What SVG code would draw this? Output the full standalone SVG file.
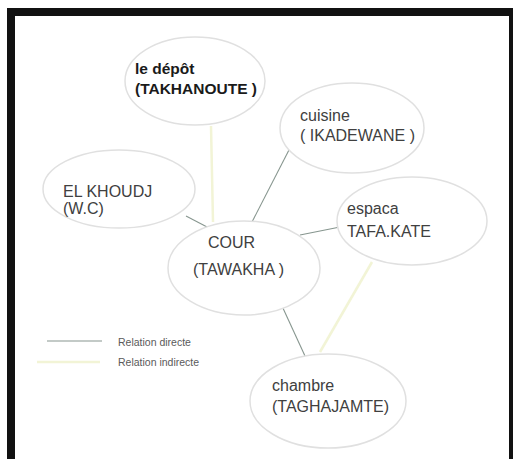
<svg xmlns="http://www.w3.org/2000/svg" width="514" height="459" viewBox="0 0 514 459">
<style>
.node ellipse{fill:#ffffff;stroke:#e0e0e0;stroke-width:1.5}
.t{font-family:"Liberation Sans",Arial,sans-serif;font-size:16px;fill:#404040}
.b{font-weight:bold;fill:#1a1a1a;font-size:15.5px}
.direct{stroke:#87968f;stroke-width:1.1;fill:none}
.indirect{stroke:#f2f4d6;stroke-width:2.5;fill:none}
.leg{font-family:"Liberation Sans",Arial,sans-serif;font-size:10.5px;fill:#5a5a5a}
</style>
<rect x="0" y="0" width="514" height="459" fill="#ffffff"/>
<g id="frame" fill="#111">
<rect x="7" y="8" width="506" height="8"/>
<rect x="7" y="8" width="8" height="451"/>
<rect x="509" y="8" width="4" height="451"/>
</g>
<g id="connectors">
<line class="indirect" x1="211" y1="126" x2="213" y2="222"/>
<line class="direct" x1="186" y1="216" x2="209" y2="228"/>
<line class="direct" x1="290" y1="148" x2="252" y2="222"/>
<line class="direct" x1="300" y1="235" x2="340" y2="227"/>
<line class="indirect" x1="372" y1="262" x2="320" y2="352"/>
<line class="direct" x1="282" y1="306" x2="305" y2="356"/>
</g>
<g id="depot" class="node">
<ellipse cx="195" cy="81" rx="70" ry="44"/>
<text class="t b" x="135" y="74">le dépôt</text>
<text class="t b" x="135" y="94">(TAKHANOUTE )</text>
</g>
<g id="khoudj" class="node">
<ellipse cx="119" cy="189" rx="76" ry="39"/>
<text class="t" x="63" y="197">EL KHOUDJ</text>
<text class="t" x="63" y="214">(W.C)</text>
</g>
<g id="cuisine" class="node">
<ellipse cx="352" cy="128" rx="72" ry="45"/>
<text class="t" x="300" y="121">cuisine</text>
<text class="t" x="300" y="141">( IKADEWANE )</text>
</g>
<g id="espaca" class="node">
<ellipse cx="412" cy="221" rx="75" ry="44"/>
<text class="t" x="347" y="214">espaca</text>
<text class="t" x="347" y="237">TAFA.KATE</text>
</g>
<g id="cour" class="node">
<ellipse cx="244" cy="268" rx="76" ry="47"/>
<text class="t" x="208" y="248">COUR</text>
<text class="t" x="193" y="275">(TAWAKHA )</text>
</g>
<g id="chambre" class="node">
<ellipse cx="328" cy="401" rx="78" ry="47"/>
<text class="t" x="272" y="391">chambre</text>
<text class="t" x="272" y="412">(TAGHAJAMTE)</text>
</g>
<g id="legend">
<line class="direct" x1="47" y1="341" x2="102" y2="341"/>
<line class="indirect" x1="37" y1="362" x2="100" y2="362"/>
<text class="leg" x="118" y="346">Relation directe</text>
<text class="leg" x="118" y="366">Relation indirecte</text>
</g>
</svg>
